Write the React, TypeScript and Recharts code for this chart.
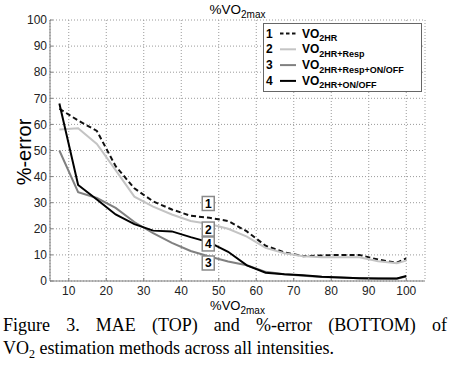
import React from 'react';
import { LineChart, Line, XAxis, YAxis, CartesianGrid, ReferenceDot, Legend, Label } from 'recharts';

// %VO2max intensities
const intensity = [7.5, 12.5, 17.5, 22.5, 27.5, 32.5, 37.5, 42.5, 47.5, 52.5, 57.5, 62.5, 67.5, 72.5, 77.5, 82.5, 87.5, 92.5, 97.5, 100];
// 1: VO2HR (dashed black)
const vo2HR = [66, 61.5, 57.5, 44, 35.5, 30.5, 27.4, 25, 24.2, 23, 19, 13.5, 11, 9.5, 9.8, 10, 10, 8.2, 7, 8.7];
// 2: VO2HR+Resp (light gray)
const vo2HRResp = [58, 58.5, 52.5, 42.5, 32.3, 28.5, 25.5, 23, 21.8, 20, 17, 12.7, 10.6, 9.5, 9.1, 9.1, 9.1, 7.6, 6.8, 7.8];
// 3: VO2HR+Resp+ON/OFF (mid gray)
const vo2HRRespOnOff = [50, 34, 31.8, 28, 22.6, 18.3, 14.6, 11.5, 9.4, 7.5, 6, 3.5, 2.6, 2, 1.5, 1.3, 1.1, 1, 0.9, 1.7];
// 4: VO2HR+ON/OFF (black)
const vo2HROnOff = [68, 36.8, 31.2, 25.5, 21.8, 19.3, 19, 16.8, 14.8, 11.2, 6, 3.2, 2.6, 2.2, 1.6, 1.3, 1.1, 1, 1, 1.9];

const xTicks = [10, 20, 30, 40, 50, 60, 70, 80, 90, 100];
const yTicks = [0, 10, 20, 30, 40, 50, 60, 70, 80, 90, 100];

const seriesNumbers = ['1', '2', '3', '4'];
const seriesSubscripts = ['2HR', '2HR+Resp', '2HR+Resp+ON/OFF', '2HR+ON/OFF'];
const seriesKeys = ['s1', 's2', 's3', 's4'];
const seriesColors = ['#111111', '#c4c4c4', '#808080', '#000000'];
const seriesDash = ['5 3', undefined, undefined, undefined];

// in-plot curve annotations (x in %VO2max, y in %-error)
const annotX = 47.2;
const annotY = [29.7, 19.9, 6.9, 14.2];

const data = intensity.map((x, i) => ({
  x,
  s1: vo2HR[i],
  s2: vo2HRResp[i],
  s3: vo2HRRespOnOff[i],
  s4: vo2HROnOff[i],
}));

const SANS = '"Liberation Sans", Arial, Helvetica, sans-serif';
const AXIS = '#7f7f7f';

const LegendBox = () => (
  <svg width={159} height={69} style={{ display: 'block' }}>
    <rect x={0.5} y={0.5} width={158} height={68} fill="#fff" stroke="#666" strokeWidth={1} />
    {seriesNumbers.map((n, i) => {
      const base = 14.5 + i * 15.8;
      return (
        <g key={n}>
          <text x={3} y={base} fontFamily={SANS} fontWeight="bold" fontSize={12} fill="#000">{n}</text>
          <line x1={17} x2={33} y1={base - 4} y2={base - 4} stroke={seriesColors[i]} strokeWidth={2} strokeDasharray={i === 0 ? '3.5 2.5' : undefined} />
          <text x={39} y={base} fontFamily={SANS} fontWeight="bold" fontSize={12} fill="#000">
            VO
            <tspan fontSize={9} dy={3.5}>{seriesSubscripts[i]}</tspan>
          </text>
        </g>
      );
    })}
  </svg>
);

const AnnotBox = (label: string) => (props: any) => {
  const { cx, cy } = props;
  return (
    <g>
      <rect x={cx - 6} y={cy - 7} width={12} height={14} fill="#fff" stroke="#8a8a8a" strokeWidth={1.5} />
      <text x={cx} y={cy + 4.5} textAnchor="middle" fontFamily={SANS} fontWeight="bold" fontSize={12} fill="#000">{label}</text>
    </g>
  );
};

const AxisTitles = (props: any) => {
  const vb = props.viewBox || {};
  const cx = (vb.x ?? 50) + (vb.width ?? 375) / 2;
  return (
    <g>
      <text x={cx} y={309.5} textAnchor="middle" fontFamily={SANS} fontSize={13} fill="#000">
        %VO<tspan fontSize={10} dy={4}>2max</tspan>
      </text>
      <text x={cx} y={14} textAnchor="middle" fontFamily={SANS} fontSize={13.5} fill="#000">
        %VO<tspan fontSize={10} dy={4}>2max</tspan>
      </text>
    </g>
  );
};

const YTitle = () => (
  <text x={31} y={152} transform="rotate(-90, 31, 152)" textAnchor="middle" fontFamily={SANS} fontSize={20} fill="#000">
    %-error
  </text>
);

export default function App() {
  return (
    <div style={{ position: 'absolute', left: 0, top: 0, width: 449, height: 370, background: '#fff', overflow: 'hidden' }}>
      <LineChart width={449} height={321} data={data} margin={{ top: 20, right: 24, bottom: 0, left: 0 }}>
        <CartesianGrid stroke="#9a9a9a" strokeDasharray="1 2" strokeWidth={1} />
        <XAxis
          dataKey="x"
          type="number"
          domain={[5, 105]}
          ticks={xTicks}
          interval={0}
          height={40}
          tickSize={-3}
          tickMargin={8.5}
          stroke={AXIS}
          tick={{ fill: '#222', fontSize: 12, fontFamily: SANS }}
          axisLine={{ stroke: AXIS }}
          tickLine={{ stroke: AXIS }}
        >
          <Label content={<AxisTitles />} />
        </XAxis>
        <XAxis
          xAxisId="top"
          orientation="top"
          dataKey="x"
          type="number"
          domain={[5, 105]}
          ticks={xTicks}
          interval={0}
          height={0}
          tickSize={-3}
          tick={false}
          stroke={AXIS}
          axisLine={{ stroke: AXIS }}
          tickLine={{ stroke: AXIS }}
        />
        <YAxis
          type="number"
          domain={[0, 100]}
          ticks={yTicks}
          interval={0}
          width={50}
          tickSize={-3}
          tickMargin={6}
          stroke={AXIS}
          tick={{ fill: '#222', fontSize: 12, fontFamily: SANS }}
          axisLine={{ stroke: AXIS }}
          tickLine={{ stroke: AXIS }}
        >
          <Label content={<YTitle />} />
        </YAxis>
        <YAxis
          yAxisId="right"
          orientation="right"
          type="number"
          domain={[0, 100]}
          ticks={yTicks}
          interval={0}
          width={0}
          tickSize={-3}
          tick={false}
          stroke={AXIS}
          axisLine={{ stroke: AXIS }}
          tickLine={{ stroke: AXIS }}
        />
        {seriesKeys.map((k, i) => (
          <Line
            key={k}
            dataKey={k}
            type="linear"
            stroke={seriesColors[i]}
            strokeWidth={2}
            strokeDasharray={seriesDash[i]}
            dot={false}
            activeDot={false}
            isAnimationActive={false}
          />
        ))}
        {seriesNumbers.map((n, i) => (
          <ReferenceDot key={n} x={annotX} y={annotY[i]} r={6} shape={AnnotBox(n)} />
        ))}
        <Legend
          layout="vertical"
          align="center"
          verticalAlign="middle"
          content={<LegendBox />}
          wrapperStyle={{ position: 'absolute', left: 263, top: 23, width: 159, height: 69, margin: 0, padding: 0 }}
        />
      </LineChart>
      <div
        style={{
          position: 'absolute',
          left: 3,
          top: 314,
          width: 444,
          fontFamily: '"Liberation Serif", "Times New Roman", serif',
          fontSize: 18,
          lineHeight: '23px',
          color: '#000',
        }}
      >
        <div style={{ textAlign: 'justify', textAlignLast: 'justify' }}>
          Figure 3. MAE (TOP) and %-error (BOTTOM) of
        </div>
        <div>
          VO<span style={{ fontSize: 12, position: 'relative', top: 4 }}>2</span> estimation methods across all intensities.
        </div>
      </div>
    </div>
  );
}
